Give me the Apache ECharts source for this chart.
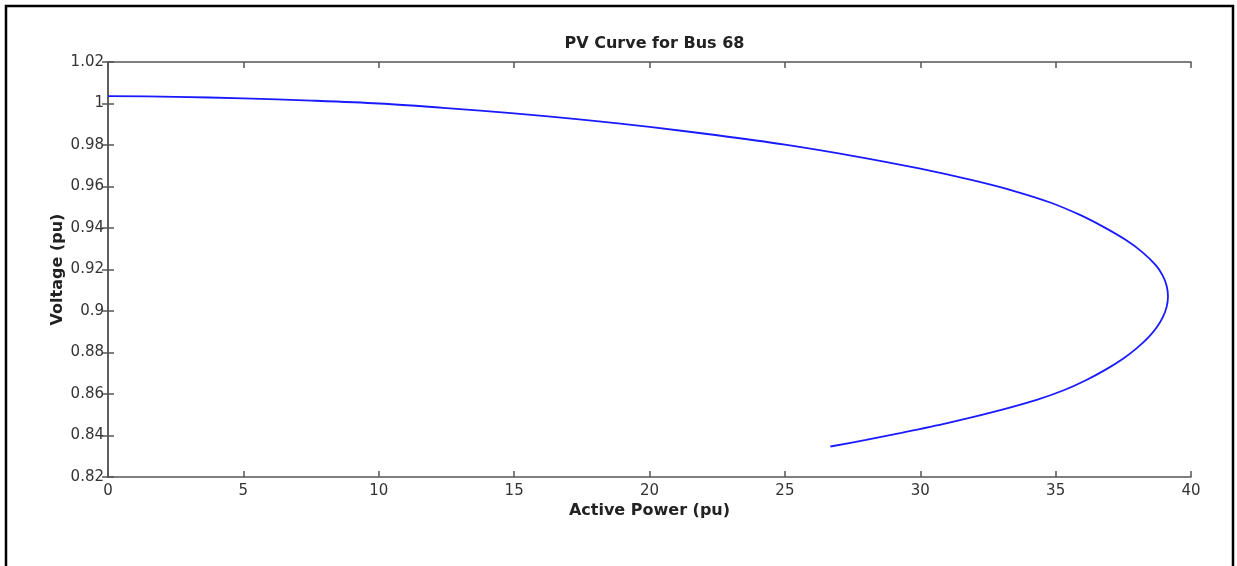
<!DOCTYPE html>
<html>
<head>
<meta charset="utf-8">
<script src="https://cdn.jsdelivr.net/npm/echarts@6/dist/echarts.min.js"></script>
<style>
html,body{margin:0;padding:0;background:#fff;}
#chart{width:1237px;height:566px;}
</style>
</head>
<body>
<div id="chart"></div>
<script>
const titleText = "PV Curve for Bus 68";
const xName = "Active Power (pu)";
const yName = "Voltage (pu)";
const xTicks = [0, 5, 10, 15, 20, 25, 30, 35, 40];
const yTicks = [0.82, 0.84, 0.86, 0.88, 0.9, 0.92, 0.94, 0.96, 0.98, 1, 1.02];
const power = [0, 2.5, 5, 7.5, 10, 12.5, 15, 17.5, 20, 22.5, 25, 27.5, 30, 32, 33.5, 34.8, 35.9, 36.8, 37.57, 38.2, 38.69, 38.95, 39.10, 39.15,
               39.10, 38.96, 38.73, 38.41, 37.99, 37.49, 36.88, 36.1, 35.3, 34.3, 32.6, 31.0, 29.3, 28.0, 26.68];
const voltage = [1.0036, 1.0032, 1.0025, 1.0014, 1.0000, 0.9978, 0.9952, 0.9922, 0.9887, 0.9847, 0.9802, 0.9748, 0.9686, 0.9628, 0.9577, 0.9523, 0.9463, 0.9403, 0.9344, 0.9284, 0.9222, 0.9172, 0.9122, 0.9070,
                 0.9020, 0.8970, 0.8920, 0.8870, 0.8820, 0.8770, 0.8720, 0.8665, 0.8618, 0.8572, 0.8510, 0.8460, 0.8413, 0.8379, 0.8347];

const pts = power.map((p, i) => [p, voltage[i]]);
const axisColor = '#555';
const font = 'DejaVu Sans, Arial';
const chart = echarts.init(document.getElementById('chart'));
const fmtY = v => String(parseFloat(v.toFixed(2)));
const boxAxis = (extra) => Object.assign({
  axisLine: {show: true, lineStyle: {color: axisColor, width: 1.5}},
  axisTick: {show: true, inside: true, length: 6, lineStyle: {color: axisColor, width: 1.5}},
  splitLine: {show: false}
}, extra);
chart.setOption({
  animation: false,
  backgroundColor: '#fff',
  title: {
    text: titleText, left: 649.5, textAlign: 'center', top: 31,
    textStyle: {fontFamily: font, fontSize: 16, fontWeight: 'bold', color: '#222'}
  },
  graphic: [{
    type: 'rect', silent: true,
    shape: {x: 6, y: 6, width: 1227, height: 620},
    style: {fill: 'none', stroke: '#000', lineWidth: 2.5}
  }],
  grid: {left: 108, right: 46, top: 62, bottom: 89},
  xAxis: [boxAxis({
    type: 'value', min: xTicks[0], max: xTicks[xTicks.length - 1], interval: 5, position: 'bottom',
    name: xName, nameLocation: 'middle', nameGap: 26, nameMoveOverlap: false,
    nameTextStyle: {fontFamily: font, fontSize: 16, fontWeight: 'bold', color: '#222'},
    axisLabel: {fontFamily: font, fontSize: 15, color: '#333', margin: 7}
  }), boxAxis({
    type: 'value', min: xTicks[0], max: xTicks[xTicks.length - 1], interval: 5, position: 'top',
    axisLabel: {show: false}
  })],
  yAxis: [boxAxis({
    type: 'value', min: yTicks[0], max: yTicks[yTicks.length - 1], interval: 0.02, position: 'left',
    name: yName, nameLocation: 'middle', nameGap: 42, nameRotate: 90, nameMoveOverlap: false,
    nameTextStyle: {fontFamily: font, fontSize: 16, fontWeight: 'bold', color: '#222'},
    axisLabel: {fontFamily: font, fontSize: 15, color: '#333', margin: 4, formatter: fmtY}
  }), boxAxis({
    type: 'value', min: yTicks[0], max: yTicks[yTicks.length - 1], interval: 0.02, position: 'right',
    axisLabel: {show: false}
  })],
  series: [{
    type: 'line', xAxisIndex: 0, yAxisIndex: 0,
    data: pts, showSymbol: false, smooth: 0.3,
    lineStyle: {color: '#1a1aff', width: 1.8}
  }]
});
</script>
</body>
</html>
